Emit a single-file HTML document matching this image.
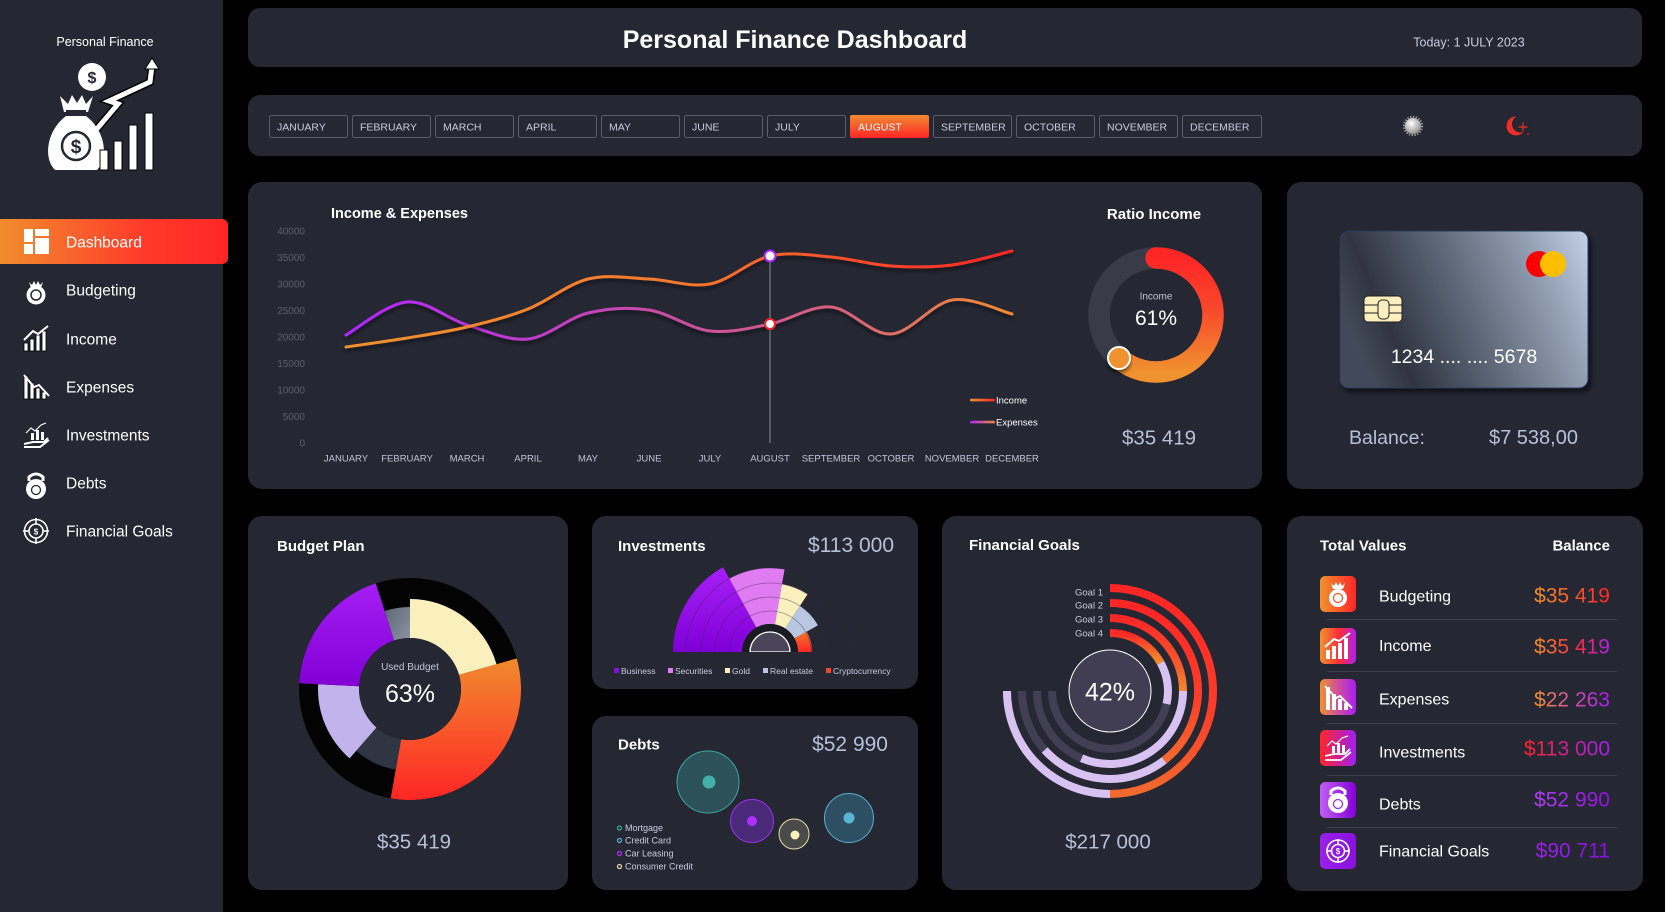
<!DOCTYPE html>
<html>
<head>
<meta charset="utf-8">
<style>
  html,body{margin:0;padding:0;background:#000;width:1665px;height:912px;overflow:hidden;}
  svg{display:block;}
  text{font-family:"Liberation Sans", sans-serif;}
</style>
</head>
<body>
<svg width="1665" height="912" viewBox="0 0 1665 912" xmlns="http://www.w3.org/2000/svg">
  <defs>
    <linearGradient id="dashGrad" x1="0" y1="0" x2="1" y2="0">
      <stop offset="0" stop-color="#f0922e"/>
      <stop offset="0.65" stop-color="#ff3a2a"/>
      <stop offset="1" stop-color="#ff2626"/>
    </linearGradient>
    <linearGradient id="augGrad" x1="0" y1="0" x2="0" y2="1">
      <stop offset="0" stop-color="#f08a30"/>
      <stop offset="1" stop-color="#ff2626"/>
    </linearGradient>
    <linearGradient id="incGrad" gradientUnits="userSpaceOnUse" x1="346" y1="0" x2="1012" y2="0">
      <stop offset="0" stop-color="#f0922e"/>
      <stop offset="0.5" stop-color="#f5782e"/>
      <stop offset="1" stop-color="#ff2626"/>
    </linearGradient>
    <linearGradient id="expGrad" gradientUnits="userSpaceOnUse" x1="346" y1="0" x2="1012" y2="0">
      <stop offset="0" stop-color="#b026ff"/>
      <stop offset="0.45" stop-color="#c84aa8"/>
      <stop offset="0.75" stop-color="#d8627a"/>
      <stop offset="1" stop-color="#f08a30"/>
    </linearGradient>
    <linearGradient id="legInc" x1="0" y1="0" x2="1" y2="0">
      <stop offset="0" stop-color="#f0922e"/><stop offset="1" stop-color="#ff2626"/>
    </linearGradient>
    <linearGradient id="legExp" x1="0" y1="0" x2="1" y2="0">
      <stop offset="0" stop-color="#b026ff"/><stop offset="1" stop-color="#f08a30"/>
    </linearGradient>
    <linearGradient id="ratioGrad" gradientUnits="userSpaceOnUse" x1="0" y1="258" x2="0" y2="372">
      <stop offset="0" stop-color="#ff2626"/>
      <stop offset="0.45" stop-color="#f8482c"/>
      <stop offset="1" stop-color="#f0922e"/>
    </linearGradient>
    <linearGradient id="cardGrad" gradientUnits="userSpaceOnUse" x1="1350" y1="330" x2="1592" y2="226">
      <stop offset="0" stop-color="#434a58"/>
      <stop offset="0.14" stop-color="#2f3541"/>
      <stop offset="0.45" stop-color="#5f6979"/>
      <stop offset="0.75" stop-color="#939fb3"/>
      <stop offset="1" stop-color="#c9d6ed"/>
    </linearGradient>
    <linearGradient id="bOrange" gradientUnits="userSpaceOnUse" x1="0" y1="650" x2="0" y2="800">
      <stop offset="0" stop-color="#f0902e"/>
      <stop offset="1" stop-color="#ff2626"/>
    </linearGradient>
    <linearGradient id="bPurple" x1="0" y1="0" x2="0" y2="1">
      <stop offset="0" stop-color="#a41ef2"/>
      <stop offset="1" stop-color="#8200d6"/>
    </linearGradient>
    <linearGradient id="bGray" x1="0" y1="0" x2="1" y2="1">
      <stop offset="0" stop-color="#5c6676"/>
      <stop offset="1" stop-color="#8a94a2"/>
    </linearGradient>
    <linearGradient id="iBus" x1="0" y1="0" x2="0" y2="1">
      <stop offset="0" stop-color="#a620f5"/>
      <stop offset="1" stop-color="#8000d8"/>
    </linearGradient>
    <linearGradient id="iCrypto" x1="0" y1="0" x2="0" y2="1">
      <stop offset="0" stop-color="#f07a2e"/>
      <stop offset="1" stop-color="#ff2626"/>
    </linearGradient>
    <linearGradient id="gRed" x1="0" y1="0" x2="0" y2="1">
      <stop offset="0" stop-color="#ff2626"/>
      <stop offset="0.6" stop-color="#fb3d2a"/>
      <stop offset="1" stop-color="#f26a2e"/>
    </linearGradient>
    <linearGradient id="gRed4" x1="0" y1="0" x2="0" y2="1">
      <stop offset="0" stop-color="#ff2626"/>
      <stop offset="1" stop-color="#f0922e"/>
    </linearGradient>
    <linearGradient id="gRed3" x1="0" y1="0" x2="0" y2="1">
      <stop offset="0" stop-color="#ff2626"/>
      <stop offset="0.6" stop-color="#f5552c"/>
      <stop offset="1" stop-color="#f08a30"/>
    </linearGradient>
    <linearGradient id="t1" x1="0" y1="0" x2="1" y2="0"><stop offset="0" stop-color="#f0922e"/><stop offset="1" stop-color="#ff2626"/></linearGradient>
    <linearGradient id="t2" x1="0" y1="0" x2="1" y2="0"><stop offset="0" stop-color="#f0922e"/><stop offset="0.55" stop-color="#ff2a3a"/><stop offset="1" stop-color="#b020f0"/></linearGradient>
    <linearGradient id="t3" x1="0" y1="0" x2="1" y2="0"><stop offset="0" stop-color="#f0922e"/><stop offset="0.5" stop-color="#cf4e9e"/><stop offset="1" stop-color="#a81ef2"/></linearGradient>
    <linearGradient id="t4" x1="0" y1="0" x2="1" y2="0"><stop offset="0" stop-color="#ff2626"/><stop offset="0.5" stop-color="#d0208e"/><stop offset="1" stop-color="#a020f0"/></linearGradient>
    <linearGradient id="t5" x1="0" y1="0" x2="1" y2="0"><stop offset="0" stop-color="#b040f2"/><stop offset="1" stop-color="#8e10e0"/></linearGradient>
    <linearGradient id="t6" x1="0" y1="0" x2="1" y2="0"><stop offset="0" stop-color="#9a20ea"/><stop offset="1" stop-color="#8a10e0"/></linearGradient>
    <linearGradient id="ic5" x1="0" y1="0" x2="1" y2="0"><stop offset="0" stop-color="#c060f5"/><stop offset="1" stop-color="#8400d8"/></linearGradient>
    <radialGradient id="sunGrad" cx="0.4" cy="0.35" r="0.7">
      <stop offset="0" stop-color="#ffffff"/><stop offset="1" stop-color="#8a8a8a"/>
    </radialGradient>
    <filter id="shadow" x="-10%" y="-10%" width="120%" height="140%">
      <feDropShadow dx="0" dy="3" stdDeviation="2" flood-color="#000" flood-opacity="0.55"/>
    </filter>
    <filter id="cardShadow" x="-10%" y="-10%" width="125%" height="130%">
      <feDropShadow dx="3" dy="4" stdDeviation="3" flood-color="#000" flood-opacity="0.6"/>
    </filter>
  </defs>

  <!-- background -->
  <rect x="0" y="0" width="1665" height="912" fill="#000"/>

  <!-- ============ SIDEBAR ============ -->
  <rect x="0" y="0" width="223" height="912" fill="#252733"/>
  <text x="105" y="46" text-anchor="middle" font-size="12.5" fill="#ffffff">Personal Finance</text>
  <!-- logo -->
  <g>
    <circle cx="92" cy="77" r="14" fill="#fff"/>
    <text x="92" y="83" text-anchor="middle" font-size="16" font-weight="bold" fill="#252733">$</text>
    <polyline points="96,130 118,104 109,101 150,82 152,66" fill="none" stroke="#000" stroke-width="8" stroke-linejoin="miter"/>
    <polyline points="96,130 118,104 109,101 150,82 152,66" fill="none" stroke="#fff" stroke-width="5" stroke-linejoin="miter"/>
    <polygon points="145,69 152,58 159,69" fill="#fff" stroke="#000" stroke-width="1"/>
    <path d="M55,170 C44,160 45,132 66,116 L86,116 C107,132 108,160 97,170 Z" fill="#fff"/>
    <polygon points="60,96 68,104 72,95 77,103 82,95 86,104 93,96 88,112 64,112" fill="#fff"/>
    <rect x="66" y="110" width="20" height="5" fill="#252733"/>
    <circle cx="76" cy="146" r="14" fill="none" stroke="#252733" stroke-width="2.5"/>
    <text x="76" y="153" text-anchor="middle" font-size="19" font-weight="bold" fill="#252733">$</text>
    <rect x="100" y="150" width="8" height="20" fill="#fff" stroke="#000" stroke-width="1"/>
    <rect x="114" y="141" width="8" height="29" fill="#fff" stroke="#000" stroke-width="1"/>
    <rect x="129" y="125" width="8" height="45" fill="#fff" stroke="#000" stroke-width="1"/>
    <rect x="145" y="113" width="8" height="57" fill="#fff" stroke="#000" stroke-width="1"/>
  </g>

  <!-- Dashboard active -->
  <rect x="-10" y="219" width="238" height="45" rx="6" fill="url(#dashGrad)"/>
  <g fill="#fff">
    <rect x="24" y="229" width="9" height="13"/>
    <rect x="24" y="244" width="9" height="10"/>
    <rect x="35" y="229" width="14" height="7"/>
    <rect x="35" y="238" width="14" height="16"/>
  </g>
  <text x="66" y="247.5" font-size="15.5" fill="#fff">Dashboard</text>

  <!-- Budgeting -->
  <g fill="#fff">
    <circle cx="36" cy="295" r="9.5"/>
    <polygon points="29,282 32,285 34,281 36,285 38,281 40,285 43,282 41,288 31,288"/>
    <circle cx="36" cy="295" r="5" fill="none" stroke="#252733" stroke-width="1.5"/>
  </g>
  <text x="66" y="295.5" font-size="15.5" fill="#fff">Budgeting</text>

  <!-- Income -->
  <g>
    <rect x="24" y="343" width="4" height="8" fill="#fff" stroke="#000" stroke-width="0.8"/>
    <rect x="30" y="339" width="4" height="12" fill="#fff" stroke="#000" stroke-width="0.8"/>
    <rect x="36" y="335" width="4" height="16" fill="#fff" stroke="#000" stroke-width="0.8"/>
    <rect x="42" y="331" width="4" height="20" fill="#fff" stroke="#000" stroke-width="0.8"/>
    <polyline points="24,340 33,331 38,334 48,326" fill="none" stroke="#fff" stroke-width="2"/>
  </g>
  <text x="66" y="344.5" font-size="15.5" fill="#fff">Income</text>

  <!-- Expenses -->
  <g>
    <rect x="24" y="376" width="4" height="23" fill="#fff" stroke="#000" stroke-width="0.8"/>
    <rect x="30" y="383" width="4" height="16" fill="#fff" stroke="#000" stroke-width="0.8"/>
    <rect x="36" y="388" width="4" height="11" fill="#fff" stroke="#000" stroke-width="0.8"/>
    <rect x="42" y="392" width="4" height="7" fill="#fff" stroke="#000" stroke-width="0.8"/>
    <polyline points="24,375 34,387 39,385 49,396" fill="none" stroke="#fff" stroke-width="2"/>
  </g>
  <text x="66" y="392.5" font-size="15.5" fill="#fff">Expenses</text>

  <!-- Investments -->
  <g fill="none" stroke="#fff" stroke-width="2">
    <polyline points="26,433 31,428 35,431 41,425 46,423" stroke-width="1.2"/>
    <path d="M24,444 L33,442 L44,442 L48,438" />
    <path d="M24,447 L40,447 L49,440"/>
  </g>
  <g fill="#fff">
    <rect x="31" y="433" width="3" height="7"/>
    <rect x="36" y="430" width="3" height="10"/>
    <rect x="41" y="432" width="3" height="8"/>
  </g>
  <text x="66" y="440.5" font-size="15.5" fill="#fff">Investments</text>

  <!-- Debts -->
  <g>
    <circle cx="36" cy="489" r="10" fill="#fff"/>
    <path d="M29,481 L29,477 Q36,471 43,477 L43,481" fill="none" stroke="#fff" stroke-width="3"/>
    <circle cx="36" cy="490" r="4.5" fill="none" stroke="#252733" stroke-width="1.3"/>
  </g>
  <text x="66" y="488.5" font-size="15.5" fill="#fff">Debts</text>

  <!-- Financial Goals -->
  <g fill="none" stroke="#fff">
    <circle cx="36" cy="531" r="11.5" stroke-width="1.6"/>
    <circle cx="36" cy="531" r="7" stroke-width="1.6"/>
    <line x1="23" y1="531" x2="29" y2="531" stroke-width="1.6"/>
    <line x1="43" y1="531" x2="49" y2="531" stroke-width="1.6"/>
    <line x1="36" y1="518" x2="36" y2="524" stroke-width="1.6"/>
    <line x1="36" y1="538" x2="36" y2="544" stroke-width="1.6"/>
  </g>
  <text x="36" y="534.5" text-anchor="middle" font-size="8" font-weight="bold" fill="#fff">$</text>
  <text x="66" y="536.5" font-size="15.5" fill="#fff">Financial Goals</text>

  <!-- ============ HEADER ============ -->
  <rect x="248" y="8" width="1394" height="59" rx="12" fill="#252733"/>
  <text x="795" y="48" text-anchor="middle" font-size="25" font-weight="bold" fill="#fff">Personal Finance Dashboard</text>
  <text x="1469" y="46.5" text-anchor="middle" font-size="12.5" fill="#c8cde0">Today: 1 JULY 2023</text>

  <!-- ============ MONTH BAR ============ -->
  <rect x="248" y="95" width="1394" height="61" rx="12" fill="#252733"/>
  <g font-size="10.5" fill="#c8cde0" stroke-width="1">
    <rect x="269.5" y="115.5" width="78" height="22" rx="2" fill="none" stroke="#5c5f6b"/>
    <text x="277" y="130.5">JANUARY</text>
    <rect x="352.5" y="115.5" width="78" height="22" rx="2" fill="none" stroke="#5c5f6b"/>
    <text x="360" y="130.5">FEBRUARY</text>
    <rect x="435.5" y="115.5" width="78" height="22" rx="2" fill="none" stroke="#5c5f6b"/>
    <text x="443" y="130.5">MARCH</text>
    <rect x="518.5" y="115.5" width="78" height="22" rx="2" fill="none" stroke="#5c5f6b"/>
    <text x="526" y="130.5">APRIL</text>
    <rect x="601.5" y="115.5" width="78" height="22" rx="2" fill="none" stroke="#5c5f6b"/>
    <text x="609" y="130.5">MAY</text>
    <rect x="684.5" y="115.5" width="78" height="22" rx="2" fill="none" stroke="#5c5f6b"/>
    <text x="692" y="130.5">JUNE</text>
    <rect x="767.5" y="115.5" width="78" height="22" rx="2" fill="none" stroke="#5c5f6b"/>
    <text x="775" y="130.5">JULY</text>
    <rect x="850" y="115" width="79" height="23" rx="2" fill="url(#augGrad)"/>
    <text x="858" y="130.5" fill="#fff">AUGUST</text>
    <rect x="933.5" y="115.5" width="78" height="22" rx="2" fill="none" stroke="#5c5f6b"/>
    <text x="941" y="130.5">SEPTEMBER</text>
    <rect x="1016.5" y="115.5" width="78" height="22" rx="2" fill="none" stroke="#5c5f6b"/>
    <text x="1024" y="130.5">OCTOBER</text>
    <rect x="1099.5" y="115.5" width="78" height="22" rx="2" fill="none" stroke="#5c5f6b"/>
    <text x="1107" y="130.5">NOVEMBER</text>
    <rect x="1182.5" y="115.5" width="79" height="22" rx="2" fill="none" stroke="#5c5f6b"/>
    <text x="1190" y="130.5">DECEMBER</text>
  </g>
  <!-- sun -->
  <circle cx="1413" cy="126" r="9" fill="none" stroke="#9a9a9a" stroke-width="2.2" stroke-dasharray="1.4 1.4"/>
  <circle cx="1413" cy="126" r="8" fill="url(#sunGrad)"/>
  <!-- moon -->
  <circle cx="1516" cy="126" r="9.5" fill="#ee2e28"/>
  <circle cx="1520.5" cy="124" r="8.5" fill="#252733"/>
  <path d="M1523,122.5 L1523,131.5 M1518.5,127 L1527.5,127" stroke="#ee2e28" stroke-width="1.2"/>
  <circle cx="1528" cy="134" r="0.9" fill="#ee2e28"/>

  <!-- ============ INCOME & EXPENSES PANEL ============ -->
  <rect x="248" y="182" width="1014" height="307" rx="14" fill="#252733"/>
  <text x="331" y="218" font-size="14.5" font-weight="bold" fill="#fff">Income &amp; Expenses</text>
  <g font-size="10" fill="#5c5f6b" text-anchor="end">
    <text x="305" y="234.5">40000</text>
    <text x="305" y="261">35000</text>
    <text x="305" y="287.5">30000</text>
    <text x="305" y="314">25000</text>
    <text x="305" y="340.5">20000</text>
    <text x="305" y="367">15000</text>
    <text x="305" y="393.5">10000</text>
    <text x="305" y="420">5000</text>
    <text x="305" y="446.5">0</text>
  </g>
  <g font-size="9.5" fill="#c0c6d8" text-anchor="middle">
    <text x="346" y="461.5">JANUARY</text>
    <text x="407" y="461.5">FEBRUARY</text>
    <text x="467" y="461.5">MARCH</text>
    <text x="528" y="461.5">APRIL</text>
    <text x="588" y="461.5">MAY</text>
    <text x="649" y="461.5">JUNE</text>
    <text x="710" y="461.5">JULY</text>
    <text x="770" y="461.5">AUGUST</text>
    <text x="831" y="461.5">SEPTEMBER</text>
    <text x="891" y="461.5">OCTOBER</text>
    <text x="952" y="461.5">NOVEMBER</text>
    <text x="1012" y="461.5">DECEMBER</text>
  </g>
  <line x1="770" y1="256" x2="770" y2="443" stroke="#8a8c95" stroke-width="1"/>
  <path filter="url(#shadow)" fill="none" stroke="url(#expGrad)" stroke-width="3" stroke-linecap="round"
    d="M346,335 C356,329.5 387,303.7 407,302 C427,300.3 447,318.8 467,325 C487,331.2 508,341 528,339 C548,337 568,317.8 588,313 C608,308.2 629,307 649,310 C669,313 690,328.7 710,331 C730,333.3 750,328 770,324 C790,320 811,305.3 831,307 C851,308.7 871,335.2 891,334 C911,332.8 932,303.3 952,300 C972,296.7 1002,311.7 1012,314"/>
  <path filter="url(#shadow)" fill="none" stroke="url(#incGrad)" stroke-width="3" stroke-linecap="round"
    d="M346,347 C356,345.5 387,341.3 407,338 C427,334.7 447,331.8 467,327 C487,322.2 508,317 528,309 C548,301 568,284 588,279 C608,274 629,278.2 649,279 C669,279.8 690,287.8 710,284 C730,280.2 750,260.5 770,256 C790,251.5 811,255.3 831,257 C851,258.7 871,264.7 891,266 C911,267.3 932,267.5 952,265 C972,262.5 1002,253.3 1012,251"/>
  <circle cx="770" cy="256" r="5.5" fill="#f4f4f6" stroke="#a526f5" stroke-width="2"/>
  <circle cx="770" cy="324" r="5" fill="#fff" stroke="#f5222a" stroke-width="2"/>
  <!-- legend -->
  <rect x="970" y="398.8" width="25" height="2.6" rx="1.3" fill="url(#legInc)"/>
  <text x="996" y="403.5" font-size="9.5" fill="#fff">Income</text>
  <rect x="970" y="420.8" width="25" height="2.6" rx="1.3" fill="url(#legExp)"/>
  <text x="996" y="425.5" font-size="9.5" fill="#fff">Expenses</text>

  <!-- Ratio Income donut -->
  <text x="1154" y="219" text-anchor="middle" font-size="15" font-weight="bold" fill="#fff">Ratio Income</text>
  <circle cx="1156" cy="315" r="57" fill="none" stroke="#393b47" stroke-width="21.5"/>
  <path d="M1156,258 A57,57 0 1 1 1119.4,358.7" fill="none" stroke="url(#ratioGrad)" stroke-width="21.5" stroke-linecap="round"/>
  <circle cx="1119" cy="358" r="11" fill="#f0922e" stroke="#fff" stroke-width="2" filter="url(#shadow)"/>
  <text x="1156" y="299.5" text-anchor="middle" font-size="10" fill="#c0c6d8">Income</text>
  <text x="1156" y="325" text-anchor="middle" font-size="21" fill="#fff">61%</text>
  <text x="1159" y="444.5" text-anchor="middle" font-size="20.5" fill="#b8c0d8">$35 419</text>

  <!-- ============ CARD PANEL ============ -->
  <rect x="1287" y="182" width="356" height="307" rx="14" fill="#252733"/>
  <rect x="1340" y="231" width="248" height="157" rx="9" fill="url(#cardGrad)" stroke="#2b3b5c" stroke-width="1" filter="url(#cardShadow)"/>
  <circle cx="1539" cy="264" r="13" fill="#ff0000"/>
  <circle cx="1553" cy="264" r="13" fill="#ffbe00"/>
  <rect x="1364" y="296" width="38" height="26" rx="4" fill="#fbf0bd" stroke="#1e1e1e" stroke-width="1"/>
  <line x1="1364" y1="305" x2="1402" y2="305" stroke="#1e1e1e" stroke-width="1"/>
  <line x1="1364" y1="313" x2="1402" y2="313" stroke="#1e1e1e" stroke-width="1"/>
  <rect x="1378" y="300" width="11" height="19" rx="4" fill="#fbf0bd" stroke="#1e1e1e" stroke-width="1"/>
  <text x="1464" y="363" text-anchor="middle" font-size="19.5" fill="#fff">1234 .... .... 5678</text>
  <text x="1349" y="444" font-size="19.5" fill="#b8c0d8">Balance:</text>
  <text x="1489" y="444" font-size="20" fill="#b8c0d8">$7 538,00</text>

  <!-- ============ BUDGET PLAN ============ -->
  <rect x="248" y="516" width="320" height="374" rx="14" fill="#252733"/>
  <text x="277" y="551" font-size="15" font-weight="bold" fill="#fff">Budget Plan</text>
  <circle cx="410" cy="689" r="111" fill="#030303"/>
  <path d="M410,599 A90,90 0 0 1 496.5,664.2 L459,674.9 A51,51 0 0 0 410,638 Z" fill="#faf0bd"/>
  <path d="M516.7,658.4 A111,111 0 0 1 390.7,798.3 L401.1,739.2 A51,51 0 0 0 459,674.9 Z" fill="url(#bOrange)"/>
  <path d="M395.8,769.8 A82,82 0 0 1 356.2,750.9 L376.5,727.5 A51,51 0 0 0 401.1,739.2 Z" fill="#2f3542"/>
  <path d="M349.6,758.4 A92,92 0 0 1 318.1,684.2 L359.1,686.3 A51,51 0 0 0 376.5,727.5 Z" fill="#c3b3ec"/>
  <path d="M299.2,683.2 A111,111 0 0 1 375.7,583.4 L394.2,640.5 A51,51 0 0 0 359.1,686.3 Z" fill="url(#bPurple)"/>
  <path d="M384.7,611 A82,82 0 0 1 410,607 L410,638 A51,51 0 0 0 394.2,640.5 Z" fill="url(#bGray)"/>
  <circle cx="410" cy="689" r="51" fill="#252733"/>
  <text x="410" y="670" text-anchor="middle" font-size="10" fill="#c0c6d8">Used Budget</text>
  <text x="410" y="702" text-anchor="middle" font-size="25" fill="#fff">63%</text>
  <text x="414" y="848.5" text-anchor="middle" font-size="20.5" fill="#b8c0d8">$35 419</text>

  <!-- ============ INVESTMENTS ============ -->
  <rect x="592" y="516" width="326" height="173" rx="14" fill="#252733"/>
  <text x="618" y="551" font-size="15" font-weight="bold" fill="#fff">Investments</text>
  <text x="894" y="552" text-anchor="end" font-size="21" fill="#b8c0d8">$113 000</text>
  <path d="M673,652 A97,97 0 0 1 723,567.2 L756.4,627.5 A28,28 0 0 0 742,652 Z" fill="url(#iBus)"/>
  <path d="M729.3,578.5 A84,84 0 0 1 784.6,569.3 L774.9,624.4 A28,28 0 0 0 756.4,627.5 Z" fill="#e07cf2"/>
  <path d="M782,584 A69,69 0 0 1 807.6,594.1 L785.2,628.5 A28,28 0 0 0 774.9,624.4 Z" fill="#faf0bd"/>
  <path d="M800,605.9 A55,55 0 0 1 818.1,625.3 L794.5,638.4 A28,28 0 0 0 785.2,628.5 Z" fill="#b9c8e0"/>
  <path d="M806.7,631.6 A42,42 0 0 1 812,652 L798,652 A28,28 0 0 0 794.5,638.4 Z" fill="url(#iCrypto)"/>
  <g fill="none" stroke="#3a2350" stroke-opacity="0.45" stroke-width="0.8">
    <path d="M729,652 A41,41 0 0 1 811,652"/>
    <path d="M715,652 A55,55 0 0 1 825,652"/>
    <path d="M701,652 A69,69 0 0 1 839,652"/>
    <path d="M686,652 A84,84 0 0 1 854,652"/>
  </g>
  <path d="M742,652 A28,28 0 0 1 798,652 Z" fill="#191a22"/>
  <path d="M750,652 A20,20 0 0 1 790,652 Z" fill="#4a4558" stroke="#fff" stroke-width="1.3"/>
  <rect x="740" y="652" width="60" height="6" fill="#252733"/>
  <g font-size="8.5" fill="#c8cde0">
    <rect x="614" y="668" width="5" height="5" fill="#8a10e0"/><text x="621" y="674">Business</text>
    <rect x="668" y="668" width="5" height="5" fill="#e07cf2"/><text x="675" y="674">Securities</text>
    <rect x="725" y="668" width="5" height="5" fill="#faf0bd"/><text x="732" y="674">Gold</text>
    <rect x="763" y="668" width="5" height="5" fill="#b9c8e0"/><text x="770" y="674">Real estate</text>
    <rect x="826" y="668" width="5" height="5" fill="#f5482a"/><text x="833" y="674">Cryptocurrency</text>
  </g>

  <!-- ============ DEBTS ============ -->
  <rect x="592" y="716" width="326" height="174" rx="14" fill="#252733"/>
  <text x="618" y="749.5" font-size="15" font-weight="bold" fill="#fff">Debts</text>
  <text x="888" y="751" text-anchor="end" font-size="21" fill="#b8c0d8">$52 990</text>
  <circle cx="708" cy="782" r="31" fill="#2d5158" stroke="#3aa8a0" stroke-width="1"/>
  <circle cx="709" cy="782" r="6.5" fill="#40b0a8"/>
  <circle cx="752" cy="821" r="21.5" fill="#4a2a78" stroke="#a030f0" stroke-width="1"/>
  <circle cx="752" cy="821" r="5" fill="#b030ff"/>
  <circle cx="794" cy="834" r="15" fill="#4a4a48" stroke="#e8dcaa" stroke-width="1"/>
  <circle cx="795" cy="835" r="4.5" fill="#faf0bd"/>
  <circle cx="849" cy="818" r="24.5" fill="#2e4e62" stroke="#5ab0d0" stroke-width="1"/>
  <circle cx="849" cy="818" r="5.5" fill="#5ab4d4"/>
  <g font-size="9" fill="#c8cde0">
    <circle cx="619.5" cy="828" r="2" fill="none" stroke="#3aa8a0" stroke-width="1.2"/><text x="625" y="831">Mortgage</text>
    <circle cx="619.5" cy="840.5" r="2" fill="none" stroke="#5ab0d0" stroke-width="1.2"/><text x="625" y="843.5">Credit Card</text>
    <circle cx="619.5" cy="853.5" r="2" fill="none" stroke="#b030ff" stroke-width="1.2"/><text x="625" y="856.5">Car Leasing</text>
    <circle cx="619.5" cy="866.5" r="2" fill="none" stroke="#e8dcaa" stroke-width="1.2"/><text x="625" y="869.5">Consumer Credit</text>
  </g>

  <!-- ============ FINANCIAL GOALS ============ -->
  <rect x="942" y="516" width="320" height="374" rx="14" fill="#252733"/>
  <text x="969" y="550" font-size="15" font-weight="bold" fill="#fff">Financial Goals</text>
  <g fill="none" stroke-width="8">
    <!-- Goal 1 r=103 -->
    <path d="M1110,588 A103,103 0 0 1 1213,691 A103,103 0 0 1 1110,794" stroke="url(#gRed)"/>
    <path d="M1110,794 A103,103 0 0 1 1007,691" stroke="#d8c2f2"/>
    <!-- Goal 2 r=88 -->
    <path d="M1110,603 A88,88 0 0 1 1164.2,760.3" stroke="url(#gRed)"/>
    <path d="M1164.2,760.3 A88,88 0 0 1 1044.6,749.9" stroke="#d8c2f2"/>
    <path d="M1044.6,749.9 A88,88 0 0 1 1022,691" stroke="#423e54"/>
    <!-- Goal 3 r=73 -->
    <path d="M1110,618 A73,73 0 0 1 1183,691" stroke="url(#gRed3)"/>
    <path d="M1183,691 A73,73 0 0 1 1081.5,758.2" stroke="#d8c2f2"/>
    <path d="M1081.5,758.2 A73,73 0 0 1 1037,691" stroke="#423e54"/>
    <!-- Goal 4 r=58 -->
    <path d="M1110,633 A58,58 0 0 1 1160.7,662.9" stroke="url(#gRed4)"/>
    <path d="M1160.7,662.9 A58,58 0 0 1 1166.5,704" stroke="#d8c2f2"/>
    <path d="M1166.5,704 A58,58 0 0 1 1052,691" stroke="#423e54"/>
  </g>
  <circle cx="1110" cy="691" r="41" fill="#413d52" stroke="#fff" stroke-width="1"/>
  <text x="1110" y="700.5" text-anchor="middle" font-size="25" fill="#fff">42%</text>
  <g font-size="9.5" fill="#c8cde0" text-anchor="end">
    <text x="1103" y="595.5">Goal  1</text>
    <text x="1103" y="608.5">Goal  2</text>
    <text x="1103" y="622.5">Goal  3</text>
    <text x="1103" y="636.5">Goal  4</text>
  </g>
  <text x="1108" y="848.5" text-anchor="middle" font-size="20.5" fill="#b8c0d8">$217 000</text>

  <!-- ============ TOTAL VALUES ============ -->
  <rect x="1287" y="516" width="356" height="375" rx="14" fill="#252733"/>
  <text x="1320" y="550.5" font-size="15" font-weight="bold" fill="#fff">Total Values</text>
  <text x="1610" y="550.5" text-anchor="end" font-size="15" font-weight="bold" fill="#fff">Balance</text>
  <g stroke="#3a3d4a" stroke-width="1">
    <line x1="1327" y1="619.5" x2="1617" y2="619.5"/>
    <line x1="1327" y1="671.5" x2="1617" y2="671.5"/>
    <line x1="1327" y1="723.5" x2="1617" y2="723.5"/>
    <line x1="1327" y1="775.5" x2="1617" y2="775.5"/>
    <line x1="1327" y1="827.5" x2="1617" y2="827.5"/>
  </g>
  <!-- icons -->
  <rect x="1320" y="576" width="36" height="36" rx="5" fill="url(#t1)"/>
  <g fill="#fff">
    <circle cx="1338" cy="598" r="9"/>
    <polygon points="1331,583 1334,586 1336,582 1338,586 1340,582 1342,586 1345,583 1343,589 1333,589"/>
  </g>
  <circle cx="1338" cy="598" r="4.5" fill="none" stroke="#f55a2c" stroke-width="1.3"/>
  <rect x="1320" y="628" width="36" height="36" rx="5" fill="url(#t2)"/>
  <g fill="#fff">
    <rect x="1326" y="650" width="4" height="9"/><rect x="1332" y="646" width="4" height="13"/>
    <rect x="1338" y="643" width="4" height="16"/><rect x="1344" y="638" width="4" height="21"/>
  </g>
  <polyline points="1325,647 1334,639 1339,641 1350,633" fill="none" stroke="#fff" stroke-width="2"/>
  <rect x="1320" y="679" width="36" height="36" rx="5" fill="url(#t3)"/>
  <g fill="#fff">
    <rect x="1326" y="687" width="4" height="23"/><rect x="1332" y="694" width="4" height="16"/>
    <rect x="1338" y="699" width="4" height="11"/><rect x="1344" y="703" width="4" height="7"/>
  </g>
  <polyline points="1325,686 1336,698 1340,696 1352,708" fill="none" stroke="#fff" stroke-width="2"/>
  <rect x="1320" y="730" width="36" height="36" rx="5" fill="url(#t4)"/>
  <g fill="none" stroke="#fff" stroke-width="1.8">
    <polyline points="1327,746 1332,741 1336,744 1342,738 1348,736" stroke-width="1.2"/>
    <path d="M1325,756 L1334,754 L1345,754 L1350,749"/>
    <path d="M1325,760 L1341,760 L1351,752"/>
  </g>
  <g fill="#fff"><rect x="1332" y="746" width="3" height="7"/><rect x="1337" y="743" width="3" height="10"/><rect x="1342" y="745" width="3" height="8"/></g>
  <rect x="1320" y="782" width="36" height="36" rx="5" fill="url(#ic5)"/>
  <circle cx="1338" cy="803" r="10" fill="#fff"/>
  <path d="M1331,795 L1331,791 Q1338,785 1345,791 L1345,795" fill="none" stroke="#fff" stroke-width="3"/>
  <circle cx="1338" cy="804" r="4.5" fill="none" stroke="#9a30e8" stroke-width="1.3"/>
  <rect x="1320" y="833" width="36" height="36" rx="5" fill="url(#t6)"/>
  <g fill="none" stroke="#fff" stroke-width="1.6">
    <circle cx="1338" cy="851" r="11"/><circle cx="1338" cy="851" r="6.5"/>
    <line x1="1326" y1="851" x2="1331" y2="851"/><line x1="1345" y1="851" x2="1350" y2="851"/>
    <line x1="1338" y1="839" x2="1338" y2="844"/><line x1="1338" y1="858" x2="1338" y2="863"/>
  </g>
  <text x="1338" y="854" text-anchor="middle" font-size="8" font-weight="bold" fill="#fff">$</text>
  <!-- labels -->
  <g font-size="16" fill="#fff">
    <text x="1379" y="601.5">Budgeting</text>
    <text x="1379" y="651">Income</text>
    <text x="1379" y="704.5">Expenses</text>
    <text x="1379" y="757.5">Investments</text>
    <text x="1379" y="809.5">Debts</text>
    <text x="1379" y="856.5">Financial Goals</text>
  </g>
  <g font-size="21" text-anchor="end">
    <text x="1610" y="602.5" fill="url(#t1)">$35 419</text>
    <text x="1610" y="653.5" fill="url(#t2)">$35 419</text>
    <text x="1610" y="706.5" fill="url(#t3)">$22 263</text>
    <text x="1610" y="755.5" fill="url(#t4)">$113 000</text>
    <text x="1610" y="806.5" fill="url(#t5)">$52 990</text>
    <text x="1610" y="857.5" fill="url(#t6)">$90 711</text>
  </g>
</svg>
</body>
</html>
